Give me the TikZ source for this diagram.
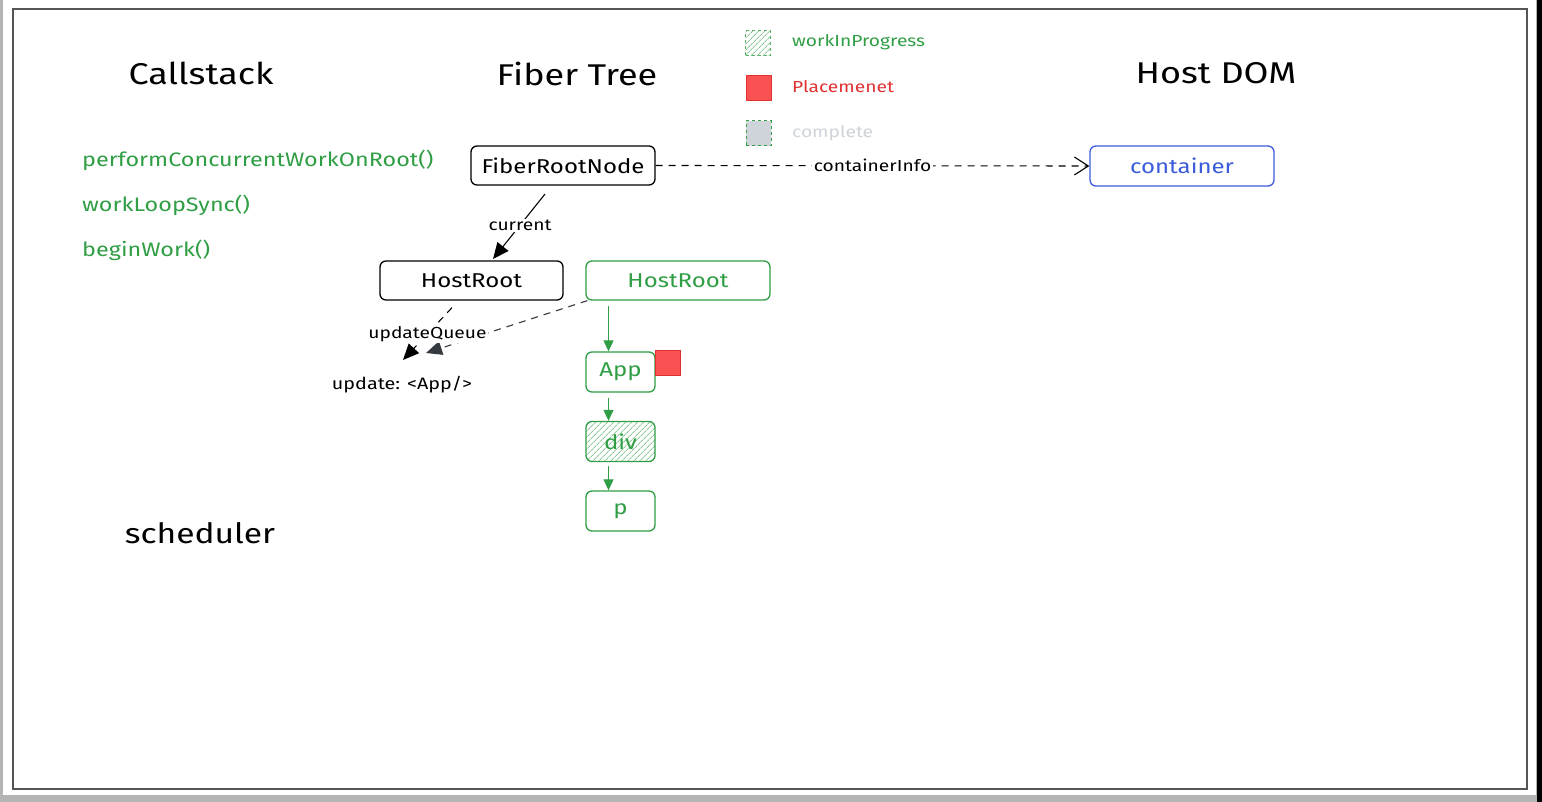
\documentclass[tikz,border=0pt]{standalone}
\usepackage{fontspec}
\setmainfont[FakeStretch=1.2]{Fira Sans}
\usetikzlibrary{arrows.meta,patterns.meta}
\definecolor{xgreen}{HTML}{2F9E44}
\definecolor{xred}{HTML}{E03131}
\definecolor{xredfill}{HTML}{FA5252}
\definecolor{xblue}{HTML}{3B5BDB}
\definecolor{xgray}{HTML}{CED4DA}
\definecolor{xdark}{HTML}{343A40}
\definecolor{bggray}{HTML}{B4B4B4}
\definecolor{framegray}{HTML}{555555}
\begin{document}
\begin{tikzpicture}[x=1pt,y=-1pt,
  title/.style={font=\fontsize{30}{34}\selectfont, text=black, inner sep=0pt},
  calltext/.style={font=\fontsize{19.5}{23}\selectfont, text=xgreen, anchor=west, inner sep=0pt},
  legtext/.style={font=\fontsize{16}{19}\selectfont, anchor=west, inner sep=0pt},
  fbox/.style={draw, rounded corners=6pt, line width=1.3pt, inner sep=0pt, font=\fontsize{20}{24}\selectfont},
  smallbox/.style={fbox, draw=xgreen, text=xgreen, minimum width=69pt, minimum height=40pt},
  lbl/.style={font=\fontsize{16}{19}\selectfont, fill=white, inner sep=1pt},
  conn/.style={line width=1.1pt},
  garrow/.style={conn, draw=xgreen, -{Triangle[length=11pt,width=10pt]}},
  dashconn/.style={conn, dash pattern=on 7pt off 6pt},
  bigtip/.style={-{Triangle[length=16pt,width=14pt]}},
]
\useasboundingbox (0,0) rectangle (1542,802);
% page background and frame
\fill[bggray] (0,0) rectangle (1542,802);
\fill[white] (3,0) rectangle (1536,795);
\fill[black] (1537,0) rectangle (1542,802);
\draw[framegray, line width=1.5pt] (13,9) rectangle (1527,789);

% titles
\node[title] (tCall) at (201,73) {Callstack};
\node[title] (tFiber) at (577,74) {Fiber Tree};
\node[title] (tHost) at (1216,73) {Host DOM};
\node[title, font=\fontsize{28}{32}\selectfont] (tSched) at (200,533) {scheduler};

% call stack
\node[calltext] (c1) at (82,160) {performConcurrentWorkOnRoot()};
\node[calltext] (c2) at (82,205) {workLoopSync()};
\node[calltext] (c3) at (82,250) {beginWork()};

% legend
\node[draw=xgreen!80, dashed, line width=1pt, minimum size=25pt, inner sep=0pt,
      pattern={Lines[angle=45,distance=4pt,line width=0.9pt]}, pattern color=xgreen!55] (lWip) at (758,43.5) {};
\node[legtext, text=xgreen] (lWipT) at (792,42) {workInProgress};
\node[draw=xred, fill=xredfill, line width=1pt, minimum size=25pt, inner sep=0pt] (lPl) at (759,88) {};
\node[legtext, text=xred] (lPlT) at (792,87) {Placemenet};
\node[draw=xgreen, dashed, fill=xgray, line width=1pt, minimum size=25pt, inner sep=0pt] (lCo) at (758.5,133.5) {};
\node[legtext, text=xgray] (lCoT) at (792,133) {complete};

% fiber nodes
\node[fbox, minimum width=184pt, minimum height=39pt] (frn) at (563,165.5) {FiberRootNode};
\node[fbox, draw=xblue, text=xblue, minimum width=184pt, minimum height=40pt] (cont) at (1182,166) {container};
\node[fbox, minimum width=183pt, minimum height=39pt] (hrA) at (471.5,280.5) {HostRoot};
\node[fbox, draw=xgreen, text=xgreen, minimum width=184pt, minimum height=39pt] (hrB) at (678,280.5) {HostRoot};
\node[smallbox] (app) at (620.5,372) {App};
\node[smallbox, pattern={Lines[angle=45,distance=4pt,line width=0.9pt]}, pattern color=xgreen!55] (div) at (620.5,441.5) {div};
\node[smallbox] (pp) at (620.5,511) {p};
\node[draw=xred, fill=xredfill, line width=0.8pt, minimum size=25pt, inner sep=0pt] (plc) at (667.5,363) {};

\node[font=\fontsize{16.5}{19}\selectfont, inner sep=0pt] (upd) at (402,385) {update: <App/>};

% connectors
\draw[dashconn, -{Straight Barb[length=14pt,width=18pt,line width=1.1pt]}]
  (frn.east) -- node[lbl, inner sep=2pt] (ciLbl) {containerInfo} (cont.west);

\coordinate (curS) at (545,194);
\coordinate (curE) at (493,259);
\draw[conn, bigtip] (curS) -- node[lbl, pos=0.48] (curLbl) {current} (curE);

\draw[garrow] ([xshift=-12pt,yshift=-5pt]app.north |- hrB.south) -- ([xshift=-12pt]app.north);
\draw[garrow] ([xshift=-12pt,yshift=-5pt]app.south) -- ([xshift=-12pt]div.north);
\draw[garrow] ([xshift=-12pt,yshift=-4pt]div.south) -- ([xshift=-12pt]pp.north);

\coordinate (uqE1) at (403,360);
\coordinate (uqE2) at (426,353);
\draw[dashconn, xdark, bigtip] ([xshift=2pt]hrB.south west) -- (uqE2);
\draw[dashconn, bigtip] ([xshift=-19.5pt,yshift=-7pt]hrA.south) -- node[lbl, pos=0.5] (uqLbl) {updateQueue} (uqE1);
\end{tikzpicture}
\end{document}
